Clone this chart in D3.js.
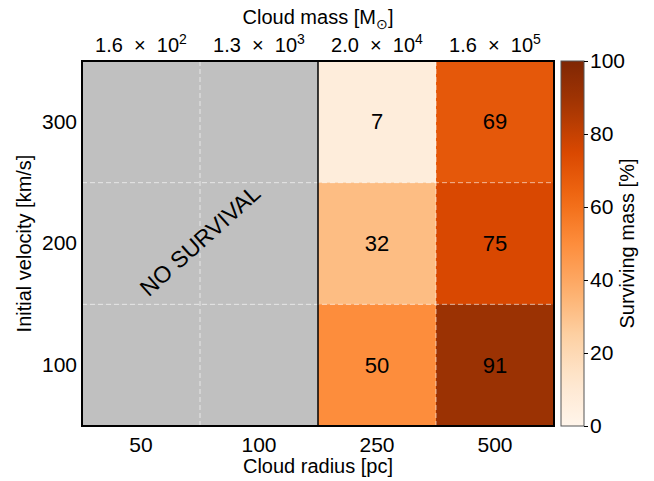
<!DOCTYPE html>
<html><head><meta charset="utf-8">
<script src="https://cdn.jsdelivr.net/npm/d3@7"></script>
<style>body{margin:0;background:#fff}svg{display:block}text{font-family:"Liberation Sans",Arial,sans-serif;fill:#000}</style>
</head><body>
<script>
const radii = ["50", "100", "250", "500"];
const massMantissa = ["1.6", "1.3", "2.0", "1.6"];
const massExponent = ["2", "3", "4", "5"];
const velocities = ["300", "200", "100"];
// surviving mass [%] per radius (columns) for velocities 300, 200, 100; null = no survival
const survival = {
  "50":  [null, null, null],
  "100": [null, null, null],
  "250": [7, 32, 50],
  "500": [69, 75, 91]
};
const cbTicks = [0, 20, 40, 60, 80, 100];
const orangesStops = ["#fff5eb","#fee6ce","#fdd0a2","#fdae6b","#fd8d3c","#f16913","#d94801","#a63603","#7f2704"];

const W = 654, H = 481;
const m = {left: 82, right: 554, top: 61, bottom: 426};
const FS = 20, TFS = 21;
const svg = d3.select("body").append("svg").attr("width", W).attr("height", H);

const x = d3.scaleBand().domain(radii).range([m.left, m.right]);
const y = d3.scaleBand().domain(velocities).range([m.top, m.bottom]);
const color = d3.scaleSequential(d3.piecewise(d3.interpolateRgb, orangesStops)).domain([0, 100]);

const cells = [];
radii.forEach(r => velocities.forEach((v, i) => cells.push({r, v, val: survival[r][i]})));

svg.append("g").selectAll("rect").data(cells).join("rect")
  .attr("x", d => x(d.r)).attr("y", d => y(d.v))
  .attr("width", x.bandwidth() + 0.5).attr("height", y.bandwidth() + 0.5)
  .attr("fill", d => d.val == null ? "#c0c0c0" : color(d.val));

// dashed grid lines
const g = svg.append("g").attr("stroke", "#ffffff").attr("stroke-opacity", 0.6)
  .attr("stroke-width", 1).attr("stroke-dasharray", "5,3");
[x("100"), x("500")].forEach(px => g.append("line").attr("x1", px).attr("x2", px).attr("y1", m.top).attr("y2", m.bottom));
[y("200"), y("100")].forEach(py => g.append("line").attr("x1", m.left).attr("x2", m.right).attr("y1", py).attr("y2", py));

// boundary of no-survival region
svg.append("line").attr("x1", x("250")).attr("x2", x("250")).attr("y1", m.top).attr("y2", m.bottom)
  .attr("stroke", "#000").attr("stroke-width", 1.5);

// values
svg.append("g").selectAll("text").data(cells.filter(d => d.val != null)).join("text")
  .attr("x", d => x(d.r) + x.bandwidth() / 2).attr("y", d => y(d.v) + y.bandwidth() / 2)
  .attr("text-anchor", "middle").attr("dominant-baseline", "central")
  .attr("font-size", 22).text(d => d.val);

// NO SURVIVAL
svg.append("text").attr("transform", `translate(${x("100")},${y("200") + y.bandwidth()/2 - 3}) rotate(-42)`)
  .attr("text-anchor", "middle").attr("dominant-baseline", "central").attr("font-size", 23)
  .text("NO SURVIVAL");

// frame
svg.append("rect").attr("x", m.left).attr("y", m.top).attr("width", m.right - m.left).attr("height", m.bottom - m.top)
  .attr("fill", "none").attr("stroke", "#000").attr("stroke-width", 2);

// bottom axis
const xb = svg.append("g").attr("transform", `translate(0,${m.bottom})`)
  .call(d3.axisBottom(x).tickSize(0).tickPadding(11));
xb.select(".domain").remove();
xb.selectAll("text").attr("font-size", TFS).attr("font-family", null);
svg.append("text").attr("x", (m.left + m.right) / 2).attr("y", 473).attr("text-anchor", "middle")
  .attr("font-size", FS).text("Cloud radius [pc]");

// left axis
const yl = svg.append("g").attr("transform", `translate(${m.left},0)`)
  .call(d3.axisLeft(y).tickSize(0).tickPadding(5));
yl.select(".domain").remove();
yl.selectAll("text").attr("font-size", TFS).attr("font-family", null);
svg.append("text").attr("transform", `translate(31,${(m.top + m.bottom) / 2}) rotate(-90)`)
  .attr("text-anchor", "middle").attr("font-size", FS).text("Initial velocity [km/s]");

// top axis with superscripts
const tt = svg.append("g").selectAll("text").data(radii).join("text")
  .attr("x", d => x(d) + x.bandwidth() / 2).attr("y", 52).attr("text-anchor", "middle").attr("font-size", FS);
tt.append("tspan").text((d, i) => massMantissa[i] + " \u00a0\u00d7\u00a0 10");
tt.append("tspan").attr("dy", -8).attr("font-size", 14).text((d, i) => massExponent[i]);
const title = svg.append("text").attr("x", 318).attr("y", 24).attr("text-anchor", "middle").attr("font-size", FS);
title.append("tspan").text("Cloud mass [M");
title.append("tspan").attr("dy", 5).attr("font-size", 14).text("\u2299");
title.append("tspan").attr("dy", -5).text("]");

// colorbar
const cb = {x: 561, w: 23};
const cy = d3.scaleLinear().domain([0, 100]).range([m.bottom, m.top]);
const defs = svg.append("defs");
const grad = defs.append("linearGradient").attr("id", "cbg").attr("x1", 0).attr("y1", 1).attr("x2", 0).attr("y2", 0);
d3.range(0, 101, 5).forEach(v => grad.append("stop").attr("offset", v / 100).attr("stop-color", color(v)));
svg.append("rect").attr("x", cb.x).attr("y", m.top).attr("width", cb.w).attr("height", m.bottom - m.top)
  .attr("fill", "url(#cbg)").attr("stroke", "#555").attr("stroke-width", 1);
const ca = svg.append("g").attr("transform", `translate(${cb.x + cb.w},0)`)
  .call(d3.axisRight(cy).tickValues(cbTicks).tickSize(4).tickPadding(2));
ca.select(".domain").remove();
ca.selectAll("text").attr("font-size", TFS).attr("font-family", null);
svg.append("text").attr("transform", `translate(634,${(m.top + m.bottom) / 2}) rotate(-90)`)
  .attr("text-anchor", "middle").attr("font-size", FS).text("Surviving mass [%]");
</script>
</body></html>
